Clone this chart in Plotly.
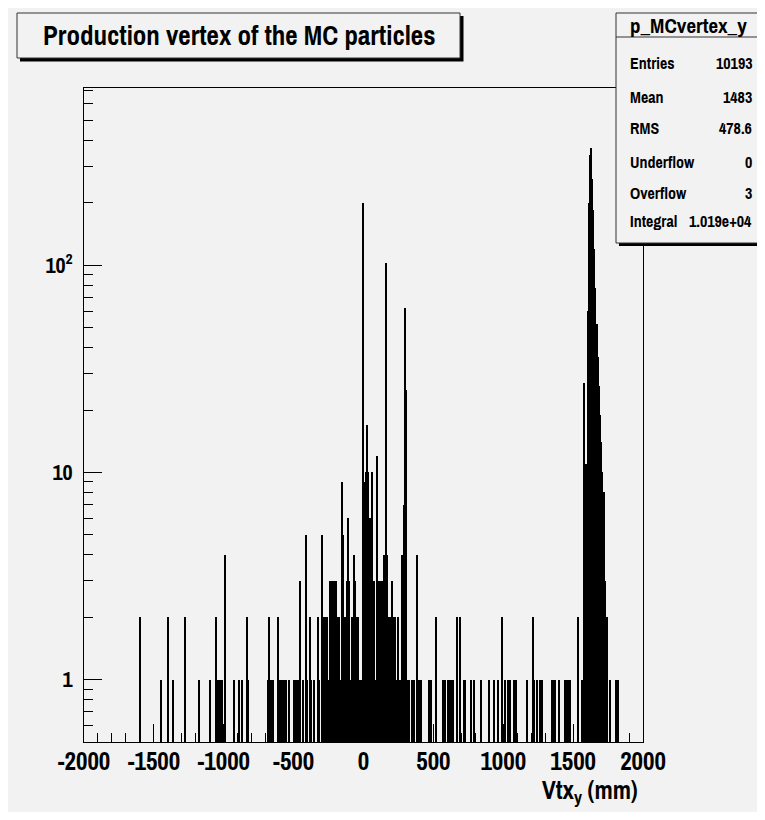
import numpy as np
import plotly.graph_objects as go

# ---------------- data ----------------
XMIN, XMAX, BIN_W = -2000, 2000, 8   # histogram axis (mm)

left_pos = [-1599, -1454, -1399, -1365, -1277, -1177, -1098, -1055, -1045, -1035,
            -1025, -1015, -986, -921, -895, -870, -834, -826]
left_cnt = [2, 1, 2, 1, 2, 1, 1, 2, 1, 1, 1, 1, 4, 1, 1, 1, 2, 1]

midleft_pos = [-683, -676, -664, -645, -612, -593, -581, -569, -557, -533, -497, -488,
               -478, -469, -452, -438, -414, -402, -383, -373, -354, -325, -318]
midleft_cnt = [1, 2, 1, 1, 2, 1, 1, 1, 1, 1, 1, 1, 1, 1, 3, 1, 5, 1, 2, 1, 1, 2, 1]

central_pos = [-300, -292, -284, -276, -268, -260, -252, -244, -236, -228, -220, -212,
               -204, -196, -188, -180, -172, -164, -156, -148, -140, -132, -124, -116,
               -108, -100, -92, -84, -76, -68, -60, -52, -44, -36, -28, -20, -12, -4,
               4, 12, 20, 28, 36, 44, 52, 60, 68, 76, 84, 92, 100, 108, 116, 124, 132,
               140, 148, 156, 164, 172, 180, 188, 196, 204, 212, 220, 228, 236, 244,
               252, 260, 268, 276, 284, 292, 300, 308, 316, 324, 348, 356, 364, 380,
               388, 396, 404, 412]
central_cnt = [5, 2, 2, 2, 1, 2, 1, 1, 3, 3, 3, 3,
               3, 3, 2, 2, 2, 1, 9, 5, 2, 2, 1, 3,
               6, 3, 1, 2, 1, 4, 3, 2, 2, 2, 1, 1, 1, 200,
               3, 9, 10, 17, 10, 6, 5, 10, 3, 3, 1, 1, 12, 3, 3, 2, 3,
               2, 4, 4, 103, 4, 2, 2, 2, 3, 2, 1, 2, 1, 2,
               1, 1, 1, 4, 4, 7, 62, 25, 1, 1, 1, 1, 1, 4,
               1, 1, 1, 1]

right_pos = [466, 484, 512, 571, 583, 607, 619, 631, 643, 667, 691, 714, 726, 774, 786,
             841, 898, 929, 960, 991, 1015, 1034, 1054, 1077, 1091, 1175, 1208, 1216,
             1247, 1258, 1275, 1347, 1358, 1370, 1399, 1447, 1457, 1468, 1478, 1530, 1561]
right_cnt = [1, 1, 2, 1, 1, 1, 1, 1, 1, 2, 2, 1, 1, 1, 1,
             1, 1, 1, 1, 2, 1, 1, 1, 1, 1, 1, 2, 1,
             1, 1, 1, 1, 1, 1, 1, 1, 1, 1, 1, 2, 1]

peak_pos = [1580, 1596, 1604, 1612, 1620, 1628, 1636, 1644, 1652, 1660, 1668, 1676,
            1684, 1692, 1700, 1708, 1716, 1724, 1732, 1740, 1764, 1804, 1812, 1820]
peak_cnt = [27, 11, 60, 200, 340, 369, 260, 184, 120, 78, 52, 36,
            26, 19, 14, 10, 8, 8, 3, 2, 1, 1, 1, 1]

x_tick_vals = [-2000, -1500, -1000, -500, 0, 500, 1000, 1500, 2000]
x_tick_text = ["-2000", "-1500", "-1000", "-500", "0", "500", "1000", "1500", "2000"]
y_tick_vals = [1, 10, 100]
y_tick_text = ["1", "10", "10<sup>2</sup>"]

stats_title = "p_MCvertex_y"
stats_labels = ["Entries", "Mean", "RMS", "Underflow", "Overflow", "Integral"]
stats_values = ["10193", "1483", "478.6", "0", "3", "1.019e+04"]
hist_title = "Production vertex of the MC particles"
x_title = "Vtx<sub>y</sub> (mm)"

# ---------------- build histogram bins ----------------
nbins = int((XMAX - XMIN) / BIN_W)
counts = np.zeros(nbins)
for pos, cnt in [(left_pos, left_cnt), (midleft_pos, midleft_cnt),
                 (central_pos, central_cnt), (right_pos, right_cnt),
                 (peak_pos, peak_cnt)]:
    for p, c in zip(pos, cnt):
        i = int(np.floor((p - XMIN) / BIN_W))
        counts[i] = max(counts[i], c)
centers = XMIN + BIN_W * (np.arange(nbins) + 0.5)
mask = counts > 0

FONT = "Archivo Narrow, Barlow Semi Condensed, Asap Condensed, Liberation Sans, sans-serif"
BG = "#f2f2f2"

fig = go.Figure()
fig.add_trace(go.Bar(x=centers[mask], y=counts[mask], width=BIN_W,
                     marker=dict(color="black", line=dict(width=0)),
                     hoverinfo="x+y"))

# page is offset by 8 px (body margin); coordinates below are figure pixels
W, H = 757, 804
L, R, T, B = 76, 635, 80, 734


def px(xp):
    return (xp - L) / (R - L)


def py(yp):
    return (B - yp) / (B - T)


shapes = []
# title box with shadow
shapes.append(dict(type="rect", xref="paper", yref="paper", x0=px(12), x1=px(455.5), y0=py(8), y1=py(53.5),
                   fillcolor="black", line=dict(width=0), layer="above"))
shapes.append(dict(type="rect", xref="paper", yref="paper", x0=px(9), x1=px(452), y0=py(5), y1=py(50),
                   fillcolor=BG, line=dict(color="#333333", width=1), layer="above"))
# stats box with shadow
shapes.append(dict(type="rect", xref="paper", yref="paper", x0=px(611), x1=px(761), y0=py(8), y1=py(238),
                   fillcolor="black", line=dict(width=0), layer="above"))
shapes.append(dict(type="rect", xref="paper", yref="paper", x0=px(608), x1=px(758), y0=py(5), y1=py(235),
                   fillcolor=BG, line=dict(color="#333333", width=1), layer="above"))
shapes.append(dict(type="line", xref="paper", yref="paper", x0=px(608), x1=px(758), y0=py(29), y1=py(29),
                   line=dict(color="#333333", width=1), layer="above"))

annotations = []
annotations.append(dict(text=hist_title, xref="paper", yref="paper", x=px(230.5), y=py(27.5),
                        xanchor="center", yanchor="middle", showarrow=False,
                        font=dict(family=FONT, size=27, color="black", weight="bold")))
annotations.append(dict(text=stats_title, xref="paper", yref="paper", x=px(680), y=py(17),
                        xanchor="center", yanchor="middle", showarrow=False,
                        font=dict(family=FONT, size=21, color="black", weight="bold")))
row_y = [55, 89, 120, 154, 185, 213]
for lab, val, yy in zip(stats_labels, stats_values, row_y):
    annotations.append(dict(text=lab, xref="paper", yref="paper", x=px(620), y=py(yy),
                            xanchor="left", yanchor="middle", showarrow=False,
                            font=dict(family=FONT, size=16, color="black", weight="bold")))
    annotations.append(dict(text=val, xref="paper", yref="paper", x=px(746), y=py(yy),
                            xanchor="right", yanchor="middle", showarrow=False,
                            font=dict(family=FONT, size=16, color="black", weight="bold")))
annotations.append(dict(text=x_title, xref="paper", yref="paper", x=px(632), y=py(763),
                        xanchor="right", yanchor="top", showarrow=False,
                        font=dict(family=FONT, size=25, color="black", weight="bold")))

minor_y = [0.6, 0.7, 0.8, 0.9, 2, 3, 4, 5, 6, 7, 8, 9, 20, 30, 40, 50, 60, 70, 80, 90,
           200, 300, 400, 500, 600, 700]

fig.update_layout(
    width=W, height=H,
    margin=dict(l=L, r=W - R, t=T, b=H - B, pad=0),
    paper_bgcolor=BG, plot_bgcolor=BG,
    showlegend=False, bargap=0,
    shapes=shapes, annotations=annotations,
    xaxis=dict(range=[XMIN, XMAX], showgrid=False, zeroline=False,
               showline=True, linecolor="black", linewidth=1, mirror=True,
               ticks="inside", ticklen=18, tickwidth=1, tickcolor="black",
               tickvals=x_tick_vals, ticktext=x_tick_text, tickangle=0,
               tickfont=dict(family=FONT, size=25, color="black", weight="bold"),
               ticklabelstandoff=-3,
               minor=dict(ticks="inside", ticklen=9, tickwidth=1, tickcolor="black",
                          dtick=100, tick0=0, showgrid=False)),
    yaxis=dict(type="log", range=[np.log10(0.5), 2.855], showgrid=False, zeroline=False,
               showline=True, linecolor="black", linewidth=1, mirror=True,
               ticks="inside", ticklen=18, tickwidth=1, tickcolor="black",
               tickvals=y_tick_vals, ticktext=y_tick_text,
               tickfont=dict(family=FONT, size=22, color="black", weight="bold"),
               ticklabelstandoff=6,
               minor=dict(ticks="inside", ticklen=9, tickwidth=1, tickcolor="black",
                          tickvals=minor_y, showgrid=False)),
)

fig.write_html("out.html")
